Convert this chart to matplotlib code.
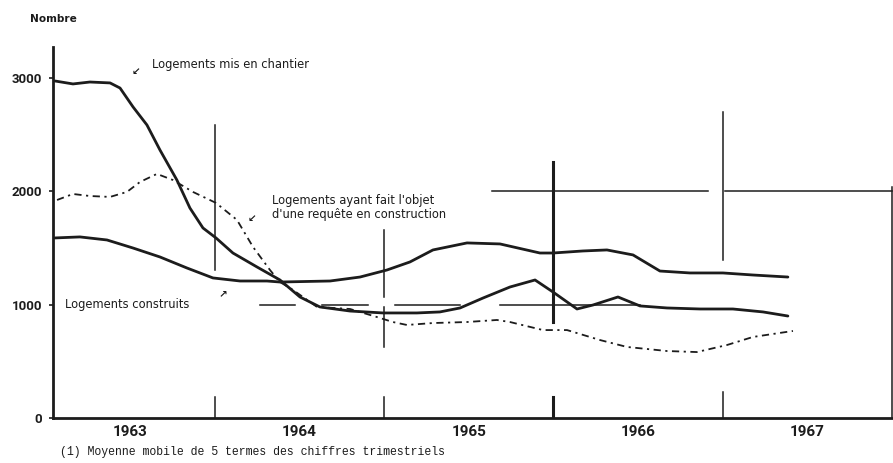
import matplotlib
matplotlib.use("Agg")
import matplotlib.pyplot as plt

chantier_x = [1963.055, 1963.161, 1963.261, 1963.380, 1963.439, 1963.516, 1963.598,
              1963.675, 1963.775, 1963.852, 1963.929, 1964.006, 1964.106, 1964.248,
              1964.384, 1964.502, 1964.620, 1964.798, 1964.993, 1965.193, 1965.329,
              1965.448, 1965.584, 1965.743, 1965.891, 1965.997, 1966.139, 1966.233,
              1966.381, 1966.511, 1966.671, 1966.866, 1967.060, 1967.238, 1967.385]
chantier_y = [2974, 2948, 2965, 2957, 2912, 2745, 2586, 2365, 2100, 1853, 1677, 1589,
              1456, 1333, 1218, 1068, 980, 944, 927, 927, 936, 971, 1059, 1156, 1218,
              1112, 962, 997, 1068, 989, 971, 962, 962, 936, 900]

construits_x = [1963.055, 1963.202, 1963.362, 1963.516, 1963.675, 1963.834, 1963.988,
                1964.148, 1964.307, 1964.384, 1964.680, 1964.857, 1965.016, 1965.152,
                1965.288, 1965.489, 1965.684, 1965.920, 1965.997, 1966.174, 1966.316,
                1966.470, 1966.629, 1966.806, 1967.001, 1967.178, 1967.385]
construits_y = [1589, 1598, 1571, 1500, 1421, 1324, 1236, 1209, 1209, 1200, 1209, 1244,
                1306, 1377, 1483, 1545, 1536, 1456, 1456, 1474, 1483, 1439, 1297, 1280,
                1280, 1262, 1244]

requete_x = [1963.067, 1963.161, 1963.261, 1963.380, 1963.480, 1963.557, 1963.657,
             1963.752, 1963.870, 1964.006, 1964.130, 1964.225, 1964.325, 1964.384,
             1964.461, 1964.603, 1964.798, 1964.957, 1965.051, 1965.134, 1965.288,
             1965.489, 1965.666, 1965.743, 1965.938, 1966.080, 1966.275, 1966.434,
             1966.671, 1966.847, 1967.025, 1967.178, 1967.415]
requete_y = [1924, 1977, 1959, 1951, 1995, 2083, 2154, 2100, 1995, 1898, 1748, 1509,
             1306, 1200, 1130, 980, 962, 891, 847, 821, 838, 847, 865, 847, 776, 776,
             688, 627, 591, 582, 644, 715, 768]

years = [1963, 1964, 1965, 1966, 1967]
yticks = [0, 1000, 2000, 3000]

ink = "#1c1c1c"
fig = plt.figure(figsize=(8.93, 4.63), dpi=100)
ax = fig.add_axes([53 / 893, 45 / 463, 840 / 893, 371 / 463])
ax.set_xlim(1963.043, 1968.006)
ax.set_ylim(0, 3274)

# grid fragments of the original drawing
ax.plot([1964, 1964], [1306, 2586], color=ink, lw=1.1)
ax.plot([1965, 1965], [1068, 1659], color=ink, lw=1.1)
ax.plot([1965, 1965], [627, 980], color=ink, lw=1.1)
ax.plot([1966, 1966], [847, 2260], color=ink, lw=2.2)
ax.plot([1967, 1967], [1394, 2701], color=ink, lw=1.1)
ax.plot([1967.998, 1967.998], [0, 2039], color=ink, lw=1.1)
for yr, top, w in [(1964, 185, 1.1), (1965, 185, 1.1), (1966, 185, 2.2), (1967, 230, 1.1)]:
    ax.plot([yr, yr], [0, top], color=ink, lw=w)
ax.plot([1965.637, 1966.913], [2000, 2000], color=ink, lw=1.1)
ax.plot([1967.013, 1968.0], [2000, 2000], color=ink, lw=1.1)
for a, b in [(1964.266, 1964.473), (1964.632, 1964.904), (1965.064, 1965.448), (1965.684, 1966.511)]:
    ax.plot([a, b], [1000, 1000], color=ink, lw=1.1)

ax.plot(chantier_x, chantier_y, color=ink, lw=2.0, solid_capstyle="round")
ax.plot(construits_x, construits_y, color=ink, lw=2.0, solid_capstyle="round")
ax.plot(requete_x, requete_y, color=ink, lw=1.3, linestyle=(0, (4, 2.5, 1.2, 2.5)))

for side in ["top", "right"]:
    ax.spines[side].set_visible(False)
ax.spines["left"].set_linewidth(2.0)
ax.spines["bottom"].set_linewidth(2.0)
ax.spines["left"].set_color(ink)
ax.spines["bottom"].set_color(ink)

ax.set_yticks(yticks)
ax.set_yticklabels([str(v) for v in yticks], fontfamily="Roboto", fontweight="bold",
                   fontsize=9.5, color=ink)
ax.tick_params(axis="y", length=3, width=1.2, pad=5, color=ink)
ax.set_xticks([y + 0.5 for y in years])
ax.set_xticklabels([str(y) for y in years], fontfamily="Roboto", fontweight="bold",
                   fontsize=11, color=ink)
ax.tick_params(axis="x", length=0, pad=5)

txt = dict(fontfamily="DejaVu Sans", fontsize=8.3, color=ink, va="center", ha="left")
ax.text(1963.628, 3116, "Logements mis en chantier", **txt)
ax.text(1963.505, 3054, "\u2199", fontsize=7.5, fontweight="bold", color=ink, va="center", ha="left")
ax.text(1964.337, 1915, "Logements ayant fait l'objet", **txt)
ax.text(1964.337, 1795, "d'une requête en construction", **txt)
ax.text(1964.195, 1760, "\u2199", fontsize=7.5, fontweight="bold", color=ink, va="center", ha="left")
ax.text(1963.114, 1006, "Logements construits", **txt)
ax.text(1964.020, 1090, "\u2197", fontsize=7.5, fontweight="bold", color=ink, va="center", ha="left")

fig.text(30 / 893, 1 - 19 / 463, "Nombre", fontfamily="DejaVu Sans", fontweight="bold",
         fontsize=7.6, color=ink, va="center", ha="left")
fig.text(60 / 893, 1 - 452 / 463, "(1) Moyenne mobile de 5 termes des chiffres trimestriels",
         fontfamily="Liberation Mono", fontsize=8.3, color=ink, va="center", ha="left")

fig.savefig("out.png", dpi=100, facecolor="white")
